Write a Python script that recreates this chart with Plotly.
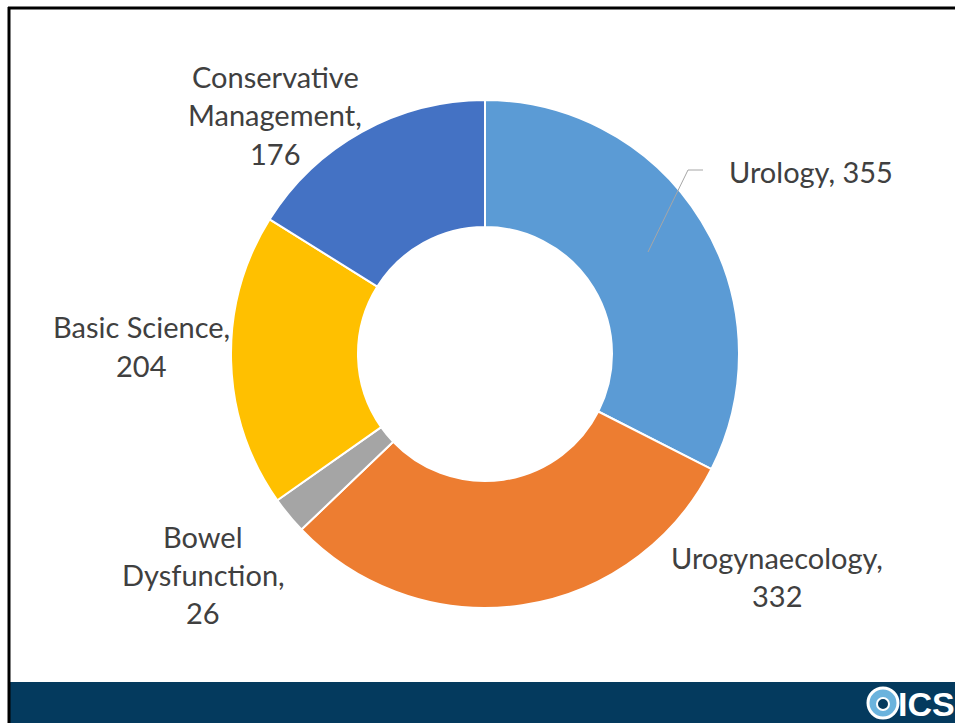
import plotly.graph_objects as go

categories = ["Urology", "Urogynaecology", "Bowel Dysfunction", "Basic Science", "Conservative Management"]
values = [355, 332, 26, 204, 176]
colors = ["#5B9BD5", "#ED7D31", "#A5A5A5", "#FFC000", "#4472C4"]
# label text broken into lines as shown in the chart
label_lines = [
    ["Urology, {v}"],
    ["Urogynaecology,", "{v}"],
    ["Bowel", "Dysfunction,", "{v}"],
    ["Basic Science,", "{v}"],
    ["Conservative", "Management,", "{v}"],
]

W, H = 955, 723
cx, cy, R = 485, 354, 254

def px(x):
    return x / W

def py(y):
    return 1 - y / H

fig = go.Figure()
fig.add_trace(go.Pie(
    labels=categories,
    values=values,
    marker=dict(colors=colors, line=dict(color="white", width=2)),
    hole=0.5,
    sort=False,
    direction="clockwise",
    rotation=0,
    textinfo="none",
    hoverinfo="label+value",
    showlegend=False,
    domain=dict(x=[px(cx - R), px(cx + R)], y=[py(cy + R), py(cy - R)]),
))

# label anchor positions (pixel coords: x, first line y, anchor)
label_pos = [
    (727, 171, "left"),
    (777, 557, "center"),
    (203, 536, "center"),
    (141, 327, "center"),
    (275, 77, "center"),
]
font = dict(family="Lato, Calibri, sans-serif", size=29, color="#404040")
line_gap = 38
annotations = []
for lines, v, (x, y, anc) in zip(label_lines, values, label_pos):
    for i, ln in enumerate(lines):
        annotations.append(dict(
            x=px(x), y=py(y + i * line_gap), xref="paper", yref="paper",
            text=ln.format(v=v), showarrow=False, xanchor=anc, yanchor="middle",
            font=font,
        ))

# ICS logo text
annotations.append(dict(x=px(957), y=py(704), xref="paper", yref="paper", text="<b>ICS</b>",
                        showarrow=False, xanchor="right", yanchor="middle",
                        font=dict(family="Liberation Sans, Arial", size=34, color="white")))

shapes = [
    # leader line for Urology
    dict(type="path", xref="paper", yref="paper",
         path=f"M {px(648)} {py(252)} L {px(688)} {py(170)} L {px(703)} {py(170)}",
         line=dict(color="#A6A6A6", width=1)),
    # bottom band
    dict(type="rect", xref="paper", yref="paper", x0=px(10), x1=1, y0=0, y1=py(682),
         fillcolor="#043A5E", line=dict(width=0), layer="below"),
    # border lines
    dict(type="line", xref="paper", yref="paper", x0=px(8), x1=1, y0=py(8), y1=py(8),
         line=dict(color="black", width=3)),
    dict(type="line", xref="paper", yref="paper", x0=px(9), x1=px(9), y0=py(7), y1=0,
         line=dict(color="black", width=3)),
    # logo mark
    dict(type="circle", xref="paper", yref="paper", x0=px(868), x1=px(898), y0=py(718), y1=py(688),
         fillcolor="#6BB3DD", line=dict(color="white", width=3)),
    dict(type="circle", xref="paper", yref="paper", x0=px(877), x1=px(889), y0=py(710), y1=py(698),
         fillcolor="#043A5E", line=dict(color="white", width=2)),
]

fig.update_layout(
    width=W, height=H,
    margin=dict(l=0, r=0, t=0, b=0),
    paper_bgcolor="white",
    plot_bgcolor="white",
    annotations=annotations,
    shapes=shapes,
)

fig.write_html(
    "out.html",
    config={"displayModeBar": False},
    post_script="document.body.style.margin='0';document.body.style.overflow='hidden';",
)
